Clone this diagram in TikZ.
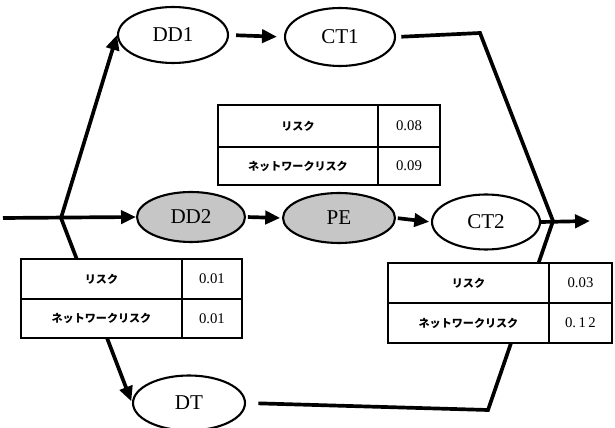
\documentclass[tikz,border=0pt]{standalone}
\usepackage{fontspec}
\setmainfont{Liberation Serif}
\newfontfamily\jp{Noto Sans CJK JP}
\usetikzlibrary{arrows.meta,shapes.geometric}
\tikzset{
  ell/.style={ellipse, draw, line width=1.2pt, inner sep=0pt, font=\fontsize{12}{13}\selectfont},
  grayell/.style={ell, fill=gray!45},
  cell/.style={rectangle, draw, line width=1.1pt, fill=white, inner sep=0pt, outer sep=0pt, anchor=north west},
  lab/.style={cell, font=\jp\bfseries\fontsize{6.3}{7}\selectfont},
  num/.style={cell, font=\fontsize{8.4}{9}\selectfont},
  conn/.style={line width=2.1pt},
  arr/.style={conn, -{Triangle[length=8.5pt,width=7.5pt]}},
}
\begin{document}
\begin{tikzpicture}[x=0.02cm,y=-0.02cm]
\useasboundingbox (0,0) rectangle (615,428);
% nodes
\node[ell, minimum width=2.2cm, minimum height=1.12cm] (DD1) at (173,35) {DD1};
\node[ell, minimum width=2.2cm, minimum height=1.16cm] (CT1) at (340,37) {CT1};
\node[grayell, minimum width=2.16cm, minimum height=1.0cm] (DD2) at (191,217) {DD2};
\node[grayell, minimum width=2.24cm, minimum height=1.0cm] (PE) at (339,218) {PE};
\node[ell, minimum width=2.16cm, minimum height=1.1cm] (CT2) at (486,222) {CT2};
\node[ell, minimum width=2.24cm, minimum height=1.1cm] (DT) at (189,403) {DT};
% coordinates
\coordinate (in) at (3,218);
\coordinate (br) at (61,218);
\coordinate (m) at (553,221);
\coordinate (out) at (590,221);
\coordinate (c1) at (480,33);
\coordinate (c2) at (488,410);
% connectors
\draw[arr] (in) -- (DD2.west);
\draw[arr] (br) -- (DD1.west);
\draw[arr, shorten >=1pt] (br) -- (DT.west);
\draw[arr, shorten <=4pt, shorten >=4pt] (DD1.east) -- (CT1.west);
\draw[arr, shorten <=1pt, shorten >=1pt] (DD2.east) -- (PE.west);
\draw[arr, shorten <=1pt, shorten >=1pt] (PE.east) -- (CT2.west);
\draw[arr] (CT2.east) -- (out);
\draw[conn, shorten <=3pt] (CT1.east) -- (c1) -- (m);
\draw[conn, shorten <=7pt] (DT.east) -- (c2) -- (m);
% table top
\node[lab, minimum width=3.2cm, minimum height=0.84cm] (t1a) at (218,105) {リスク};
\node[num, minimum width=1.24cm, minimum height=0.84cm] (t1b) at (t1a.north east) {0.08};
\node[lab, minimum width=3.2cm, minimum height=0.76cm] (t1c) at (t1a.south west) {ネットワークリスク};
\node[num, minimum width=1.24cm, minimum height=0.76cm] (t1d) at (t1c.north east) {0.09};
% table left
\node[lab, minimum width=3.22cm, minimum height=0.8cm] (t2a) at (21,259) {リスク};
\node[num, minimum width=1.2cm, minimum height=0.8cm] (t2b) at (t2a.north east) {0.01};
\node[lab, minimum width=3.22cm, minimum height=0.78cm] (t2c) at (t2a.south west) {ネットワークリスク};
\node[num, minimum width=1.2cm, minimum height=0.78cm] (t2d) at (t2c.north east) {0.01};
% table right
\node[lab, minimum width=3.22cm, minimum height=0.8cm] (t3a) at (388,263) {リスク};
\node[num, minimum width=1.26cm, minimum height=0.8cm] (t3b) at (t3a.north east) {0.03};
\node[lab, minimum width=3.22cm, minimum height=0.8cm] (t3c) at (t3a.south west) {ネットワークリスク};
\node[num, minimum width=1.26cm, minimum height=0.8cm] (t3d) at (t3c.north east) {0.\,1\,2};
\end{tikzpicture}
\end{document}
